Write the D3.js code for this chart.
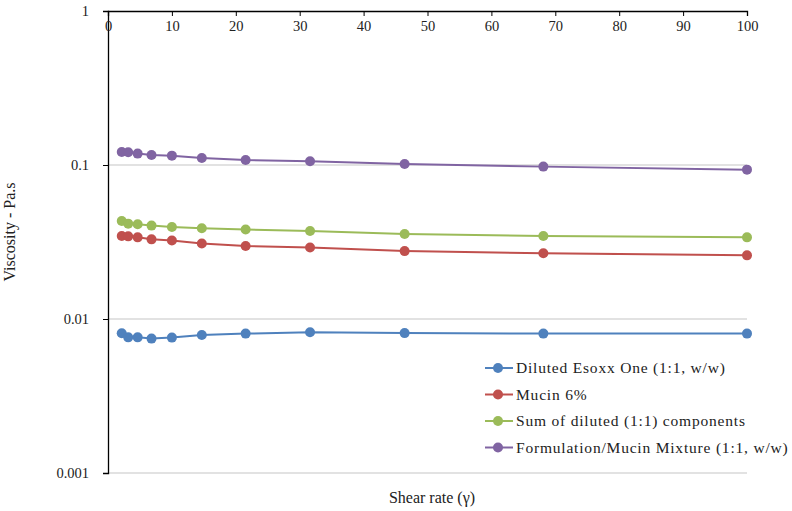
<!DOCTYPE html>
<html>
<head>
<meta charset="utf-8">
<script src="https://cdn.jsdelivr.net/npm/d3@7"></script>
<style>
  body { margin: 0; background: #fff; }
  text { font-family: "Liberation Serif", serif; fill: #222; }
</style>
</head>
<body>
<svg id="chart" width="792" height="511"></svg>
<script>
const shearRate = [2.15, 3.16, 4.64, 6.81, 10, 14.68, 21.54, 31.62, 46.42, 68.13, 100]

const esoxx = [0.00808, 0.0076, 0.0076, 0.00746, 0.00757, 0.00787, 0.00804, 0.0082, 0.0081, 0.00804, 0.00804]
const mucin = [0.0346, 0.0344, 0.0339, 0.0329, 0.0323, 0.0309, 0.0298, 0.0291, 0.0276, 0.0267, 0.0259]
const sumDiluted = [0.0433, 0.0416, 0.0412, 0.0404, 0.0396, 0.0388, 0.0381, 0.0373, 0.0356, 0.0346, 0.0339]
const mixture = [0.1215, 0.121, 0.1186, 0.116, 0.115, 0.111, 0.1077, 0.1057, 0.1015, 0.0976, 0.0933]

const seriesNames = ["Diluted Esoxx One (1:1, w/w)", "Mucin 6%", "Sum of diluted (1:1) components", "Formulation/Mucin Mixture (1:1, w/w)"]
const seriesColors = ["#4f81bd", "#c0504d", "#9bbb59", "#8064a2"]

const xTicks = [0, 10, 20, 30, 40, 50, 60, 70, 80, 90, 100]
const yTicks = [1, 0.1, 0.01, 0.001]

const svg = d3.select("#chart"),
    margin = {left: 108, right: 45, top: 11, bottom: 38},
    width = +svg.attr("width"),
    height = +svg.attr("height");

const x = d3.scaleLinear()
    .domain([0, 100])
    .range([margin.left, width - margin.right])

const y = d3.scaleLog()
    .domain([0.001, 1])
    .range([height - margin.bottom, margin.top])

// grid lines
svg.append("g")
    .selectAll("line")
    .data(yTicks.filter(d => d < 1))
    .join("line")
      .attr("x1", x(0))
      .attr("x2", x(100))
      .attr("y1", d => y(d))
      .attr("y2", d => y(d))
      .style("stroke", "#d9d9d9")
      .style("stroke-width", 1.5)

// y axis on the left
const yAxis = svg.append("g")
    .attr("transform", `translate(${x(0)},0)`)
    .call(d3.axisLeft(y).tickValues(yTicks).tickFormat(d => String(d)).tickSize(5).tickPadding(14))
yAxis.select(".domain").style("stroke", "#000").style("stroke-width", 1.3)
yAxis.selectAll(".tick line").style("stroke", "#000")
yAxis.selectAll("text").style("font-size", "14.5px").attr("fill", "#222")

// x axis along the top, labels below the line
const xAxis = svg.append("g")
    .attr("transform", `translate(0,${y(1)})`)
    .call(d3.axisBottom(x).tickValues(xTicks).tickSizeOuter(0).tickSize(5).tickPadding(5))
xAxis.select(".domain").style("stroke", "#000").style("stroke-width", 1.3)
xAxis.selectAll(".tick line").style("stroke", "#000")
xAxis.selectAll("text").style("font-size", "14.5px").attr("fill", "#222")

const allSeries = [esoxx, mucin, sumDiluted, mixture]

const line = d3.line()
    .x((d, i) => x(shearRate[i]))
    .y(d => y(d))

allSeries.forEach(function (vals, k) {
    svg.append("path")
        .datum(vals)
        .attr("d", line)
        .style("fill", "none")
        .style("stroke", seriesColors[k])
        .style("stroke-width", 2)

    svg.append("g")
        .selectAll("circle")
        .data(vals)
        .join("circle")
          .attr("cx", (d, i) => x(shearRate[i]))
          .attr("cy", d => y(d))
          .attr("r", 5)
          .attr("fill", seriesColors[k])
})

// axis titles
svg.append("text")
    .attr("transform", "translate(15,232) rotate(-90)")
    .attr("text-anchor", "middle")
    .style("font-size", "16px")
    .text("Viscosity - Pa.s")

svg.append("text")
    .attr("x", 432)
    .attr("y", 503)
    .attr("text-anchor", "middle")
    .style("font-size", "16px")
    .text("Shear rate (γ)")

// legend
const legend = svg.append("g")
    .selectAll("g")
    .data(seriesNames)
    .join("g")
      .attr("transform", (d, i) => `translate(485,${368 + i * 26.5})`)

legend.append("line")
    .attr("x1", 0).attr("x2", 28)
    .style("stroke", (d, i) => seriesColors[i])
    .style("stroke-width", 2)
legend.append("circle")
    .attr("cx", 13).attr("r", 5)
    .attr("fill", (d, i) => seriesColors[i])
legend.append("text")
    .attr("x", 31)
    .attr("dy", "0.35em")
    .style("font-size", "15.5px")
    .style("letter-spacing", "0.8px")
    .text(d => d)
</script>
</body>
</html>
